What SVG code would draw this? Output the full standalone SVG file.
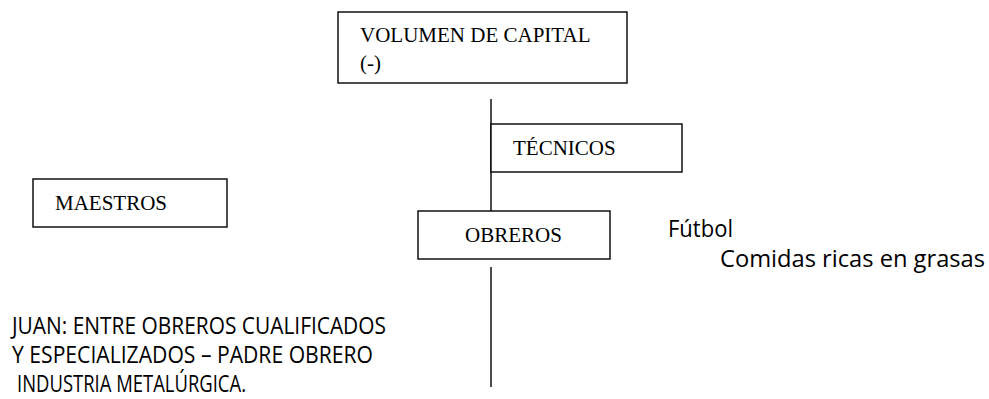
<svg xmlns="http://www.w3.org/2000/svg" width="989" height="399" viewBox="0 0 989 399">
<style>
.box{fill:#fff;stroke:#000;stroke-width:1.4}
.con{stroke:#000;stroke-width:1.4;fill:none}
.ser{font-family:"Liberation Serif","Times New Roman",serif;font-size:21px;fill:#000}
.san{font-family:"Open Sans","Noto Sans","Liberation Sans",sans-serif;font-size:23px;fill:#000}
</style>
<rect width="989" height="399" fill="#fff"/>
<g id="connectors">
<line class="con" x1="491" y1="99" x2="491" y2="211"/>
<line class="con" x1="491" y1="267" x2="491" y2="387"/>
</g>
<g id="volumen">
<rect class="box" x="338" y="12" width="289" height="71"/>
<text class="ser" x="360" y="42">VOLUMEN DE CAPITAL</text>
<text class="ser" x="360" y="70">(-)</text>
</g>
<g id="tecnicos">
<rect class="box" x="491" y="124" width="191" height="48"/>
<text class="ser" x="513" y="155">TÉCNICOS</text>
</g>
<g id="maestros">
<rect class="box" x="33" y="179" width="194" height="48"/>
<text class="ser" x="55" y="210">MAESTROS</text>
</g>
<g id="obreros">
<rect class="box" x="418" y="211" width="192" height="48"/>
<text class="ser" x="465" y="242">OBREROS</text>
</g>
<g id="notas">
<text class="san" x="668" y="237" textLength="65" lengthAdjust="spacingAndGlyphs">Fútbol</text>
<text class="san" x="720" y="267" textLength="265" lengthAdjust="spacingAndGlyphs">Comidas ricas en grasas</text>
</g>
<g id="juan">
<text class="san" x="12" y="334" textLength="374" lengthAdjust="spacingAndGlyphs">JUAN: ENTRE OBREROS CUALIFICADOS</text>
<text class="san" x="12" y="363" textLength="361" lengthAdjust="spacingAndGlyphs">Y ESPECIALIZADOS – PADRE OBRERO</text>
<text class="san" x="17" y="392" textLength="229" lengthAdjust="spacingAndGlyphs">INDUSTRIA METALÚRGICA.</text>
</g>
</svg>
